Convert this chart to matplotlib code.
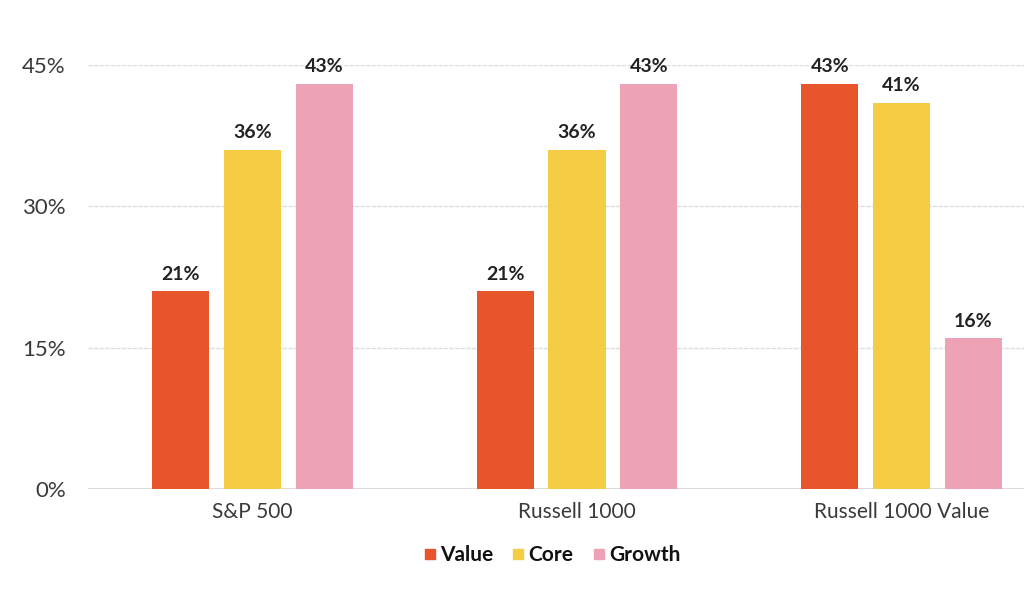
import numpy as np
import matplotlib.pyplot as plt
from matplotlib.lines import Line2D

plt.rcParams['font.family'] = ['Lato', 'DejaVu Sans']

indexes = ['S&P 500', 'Russell 1000', 'Russell 1000 Value']
series = ['Value', 'Core', 'Growth']
value = [21, 21, 43]
core = [36, 36, 41]
growth = [43, 43, 16]
colors = ['#E8542B', '#F5CD44', '#EEA2B6']


def main():
    fig = plt.figure(figsize=(10.24, 5.96), dpi=100)
    ax = fig.add_axes([0.086, 0.1795, 0.914, 0.7114])

    x = np.arange(len(indexes))
    width, step = 0.176, 0.221
    for i, (name, vals, col) in enumerate(zip(series, [value, core, growth], colors)):
        pos = x + (i - 1) * step
        ax.bar(pos, vals, width=width, color=col, zorder=3)
        for p, v in zip(pos, vals):
            ax.text(p, v + 0.9, f'{v}%', ha='center', va='bottom', fontsize=14,
                    fontweight='bold', color='#222222', clip_on=False, zorder=4)

    ax.set_xlim(-0.506, 2.377)
    ax.set_ylim(0, 45)
    ax.set_yticks([0, 15, 30, 45])
    ax.set_yticklabels(['0%', '15%', '30%', '45%'], fontsize=16, color='#3a3a3a')
    ax.set_xticks(x)
    ax.set_xticklabels(indexes, fontsize=15, color='#3a3a3a')
    ax.tick_params(axis='both', length=0)
    ax.tick_params(axis='y', pad=16)
    ax.tick_params(axis='x', pad=9)
    for s in ax.spines.values():
        s.set_visible(False)
    ax.grid(True, axis='y', color='#dcdcdc', lw=1, ls=(0, (3, 1)), zorder=0)
    ax.axhline(0, color='#d6d6d6', lw=1.2, zorder=1)

    handles = [Line2D([], [], marker='s', ls='', markersize=7, color=c) for c in colors]
    leg = fig.legend(handles, series, loc='center', bbox_to_anchor=(0.539, 0.068), ncol=3,
                     frameon=False, handlelength=0.6, handletextpad=0.2, columnspacing=0.9,
                     prop={'size': 15, 'weight': 'bold'})
    for t in leg.get_texts():
        t.set_color('#111111')

    fig.savefig('out.png', dpi=100)
    plt.close(fig)


if __name__ == '__main__':
    main()
